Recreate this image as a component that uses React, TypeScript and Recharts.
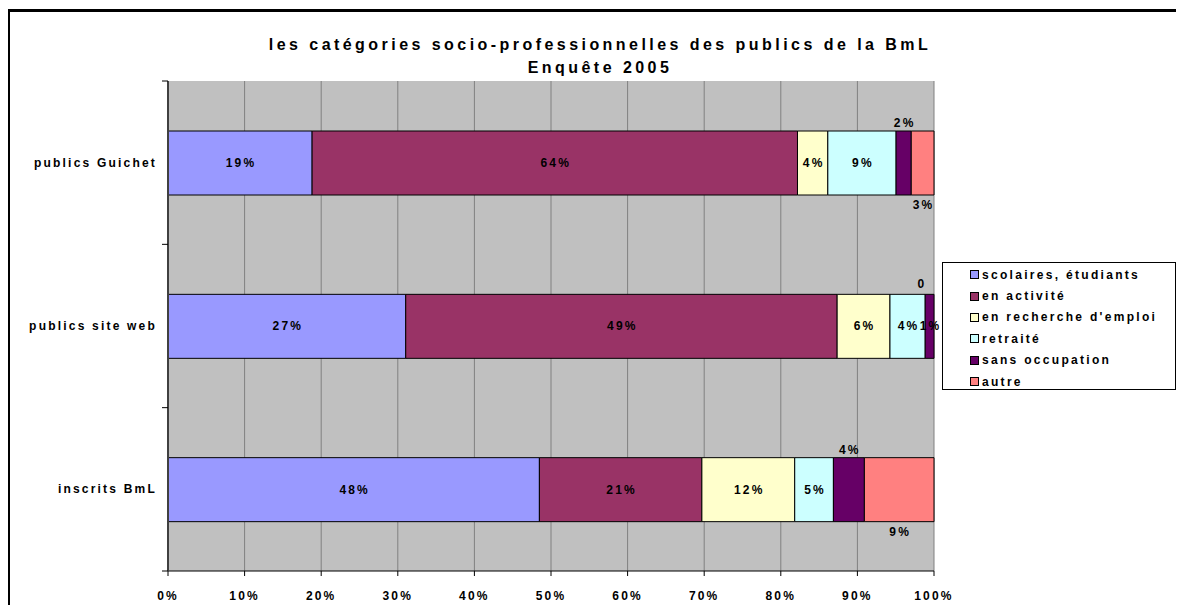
import React from "react";
import {
  BarChart,
  Bar,
  XAxis,
  YAxis,
  CartesianGrid,
  Legend,
  LabelList,
} from "recharts";

const publics = ["publics Guichet", "publics site web", "inscrits BmL"];
const scolaires = [19, 27, 48];
const enActivite = [64, 49, 21];
const enRecherche = [4, 6, 12];
const retraite = [9, 4, 5];
const sansOccupation = [2, 1, 4];
const autre = [3, 0, 9];

const xTicks = [0, 0.1, 0.2, 0.3, 0.4, 0.5, 0.6, 0.7, 0.8, 0.9, 1];

const FONT = "'Liberation Sans', Arial, sans-serif";

const W = 1184;
const H = 613;
const M = { top: 81, right: 250, bottom: 12, left: 0 };
const X_AXIS_H = 30;
const PLOT_LEFT = 168;
const BAND = (H - M.top - M.bottom - X_AXIS_H) / publics.length;

const series = [
  { key: "scolaires", name: "scolaires, étudiants", color: "#9999FF", values: scolaires, pos: ["c", "c", "c"] },
  { key: "activite", name: "en activité", color: "#993366", values: enActivite, pos: ["c", "c", "c"] },
  { key: "recherche", name: "en recherche d'emploi", color: "#FFFFCC", values: enRecherche, pos: ["c", "c", "c"] },
  { key: "retraite", name: "retraité", color: "#CCFFFF", values: retraite, pos: ["c", "c", "c"] },
  { key: "sans", name: "sans occupation", color: "#660066", values: sansOccupation, pos: ["above", "c", "above"] },
  { key: "autre", name: "autre", color: "#FF8080", values: autre, pos: ["below", "above", "below"] },
];

const data = publics.map((name, i) => {
  const row: Record<string, any> = { name };
  series.forEach((s) => (row[s.key] = s.values[i]));
  return row;
});

const txt = {
  fontFamily: FONT,
  fontWeight: 700,
  fontSize: 12,
  letterSpacing: 2.2,
  fill: "#000",
};

const fmt = (v: number) => (v === 0 ? "0" : `${v}%`);

function rowOf(y: number, height: number) {
  return Math.round((y + height / 2 - M.top - BAND / 2) / BAND);
}

function makeLabel(si: number) {
  const s = series[si];
  const next = series[si + 1];
  return (props: any) => {
    const { x, y, width, height } = props;
    const row = rowOf(y, height);
    const v = s.values[row];
    const pos = s.pos[row];
    const cx = x + width / 2;
    let cy = y + height / 2;
    if (pos === "above") cy = y - 8;
    if (pos === "below") cy = y + height + 10;
    // zero-width segment of the next series gets no rect, so its "0" is drawn here
    const zeroNext = next && next.values[row] === 0;
    return (
      <g>
        <text x={cx + 1} y={cy} textAnchor="middle" dominantBaseline="central" style={txt}>
          {fmt(v)}
        </text>
        {zeroNext && (
          <text x={x + width - 12} y={y - 10} textAnchor="middle" dominantBaseline="central" style={txt}>
            {fmt(next.values[row])}
          </text>
        )}
      </g>
    );
  };
}

function CategoryTick(props: any) {
  const { y, payload, index } = props;
  const half = BAND / 2;
  return (
    <g>
      <text x={PLOT_LEFT - 11} y={y} textAnchor="end" dominantBaseline="central" style={txt}>
        {payload.value}
      </text>
      <line x1={PLOT_LEFT - 6} x2={PLOT_LEFT} y1={y + half} y2={y + half} stroke="#000" />
      {index === 0 && (
        <line x1={PLOT_LEFT - 6} x2={PLOT_LEFT} y1={y - half} y2={y - half} stroke="#000" />
      )}
    </g>
  );
}

function LegendBox() {
  return (
    <div
      style={{
        width: 234,
        height: 128,
        border: "1px solid #000",
        background: "#fff",
        boxSizing: "border-box",
        paddingTop: 1,
        paddingLeft: 27,
      }}
    >
      {series.map((s) => (
        <div key={s.key} style={{ display: "flex", alignItems: "center", height: 21.4 }}>
          <span
            style={{
              width: 7,
              height: 7,
              background: s.color,
              border: "1px solid #000",
              marginRight: 3,
              flex: "none",
            }}
          />
          <span style={{ fontFamily: FONT, fontWeight: 700, fontSize: 12, letterSpacing: 2.3, whiteSpace: "nowrap" }}>
            {s.name}
          </span>
        </div>
      ))}
    </div>
  );
}

export default function App() {
  return (
    <div style={{ position: "relative", margin: -8, height: H, overflow: "hidden", background: "#fff" }}>
      <div style={{ position: "absolute", left: 7, top: 9, right: 0, height: 3, background: "#000" }} />
      <div style={{ position: "absolute", left: 7, top: 9, width: 3, bottom: 0, background: "#000" }} />
      <div
        style={{
          position: "absolute",
          left: 0,
          top: 33,
          width: 1200,
          textAlign: "center",
          fontFamily: FONT,
          fontWeight: 700,
          fontSize: 16,
          letterSpacing: 3.45,
          lineHeight: "23px",
        }}
      >
        les catégories socio-professionnelles des publics de la BmL
        <br />
        Enquête 2005
      </div>
      <div style={{ position: "absolute", left: 0, top: 0 }}>
        <BarChart width={W} height={H} data={data} layout="vertical" stackOffset="expand" margin={M} barSize={64}>
          <CartesianGrid horizontal={false} stroke="#808080" fill="#C0C0C0" fillOpacity={1} />
          <XAxis
            type="number"
            domain={[0, 1]}
            ticks={xTicks}
            tickFormatter={(v: number) => `${Math.round(v * 100)}%`}
            height={X_AXIS_H}
            tickSize={5}
            tickMargin={15}
            axisLine={{ stroke: "#000" }}
            tickLine={{ stroke: "#000" }}
            tick={txt}
            interval={0}
          />
          <YAxis
            type="category"
            dataKey="name"
            width={PLOT_LEFT}
            axisLine={{ stroke: "#404040", strokeWidth: 2 }}
            tickLine={false}
            tick={<CategoryTick />}
          />
          <Legend
            layout="vertical"
            align="center"
            verticalAlign="middle"
            wrapperStyle={{ left: 942, top: 262, width: 234 }}
            content={() => <LegendBox />}
          />
          {series.map((s, si) => (
            <Bar
              key={s.key}
              dataKey={s.key}
              name={s.name}
              stackId="a"
              fill={s.color}
              stroke="#000"
              strokeWidth={1}
              isAnimationActive={false}
            >
              <LabelList content={makeLabel(si)} />
            </Bar>
          ))}
        </BarChart>
      </div>
    </div>
  );
}
